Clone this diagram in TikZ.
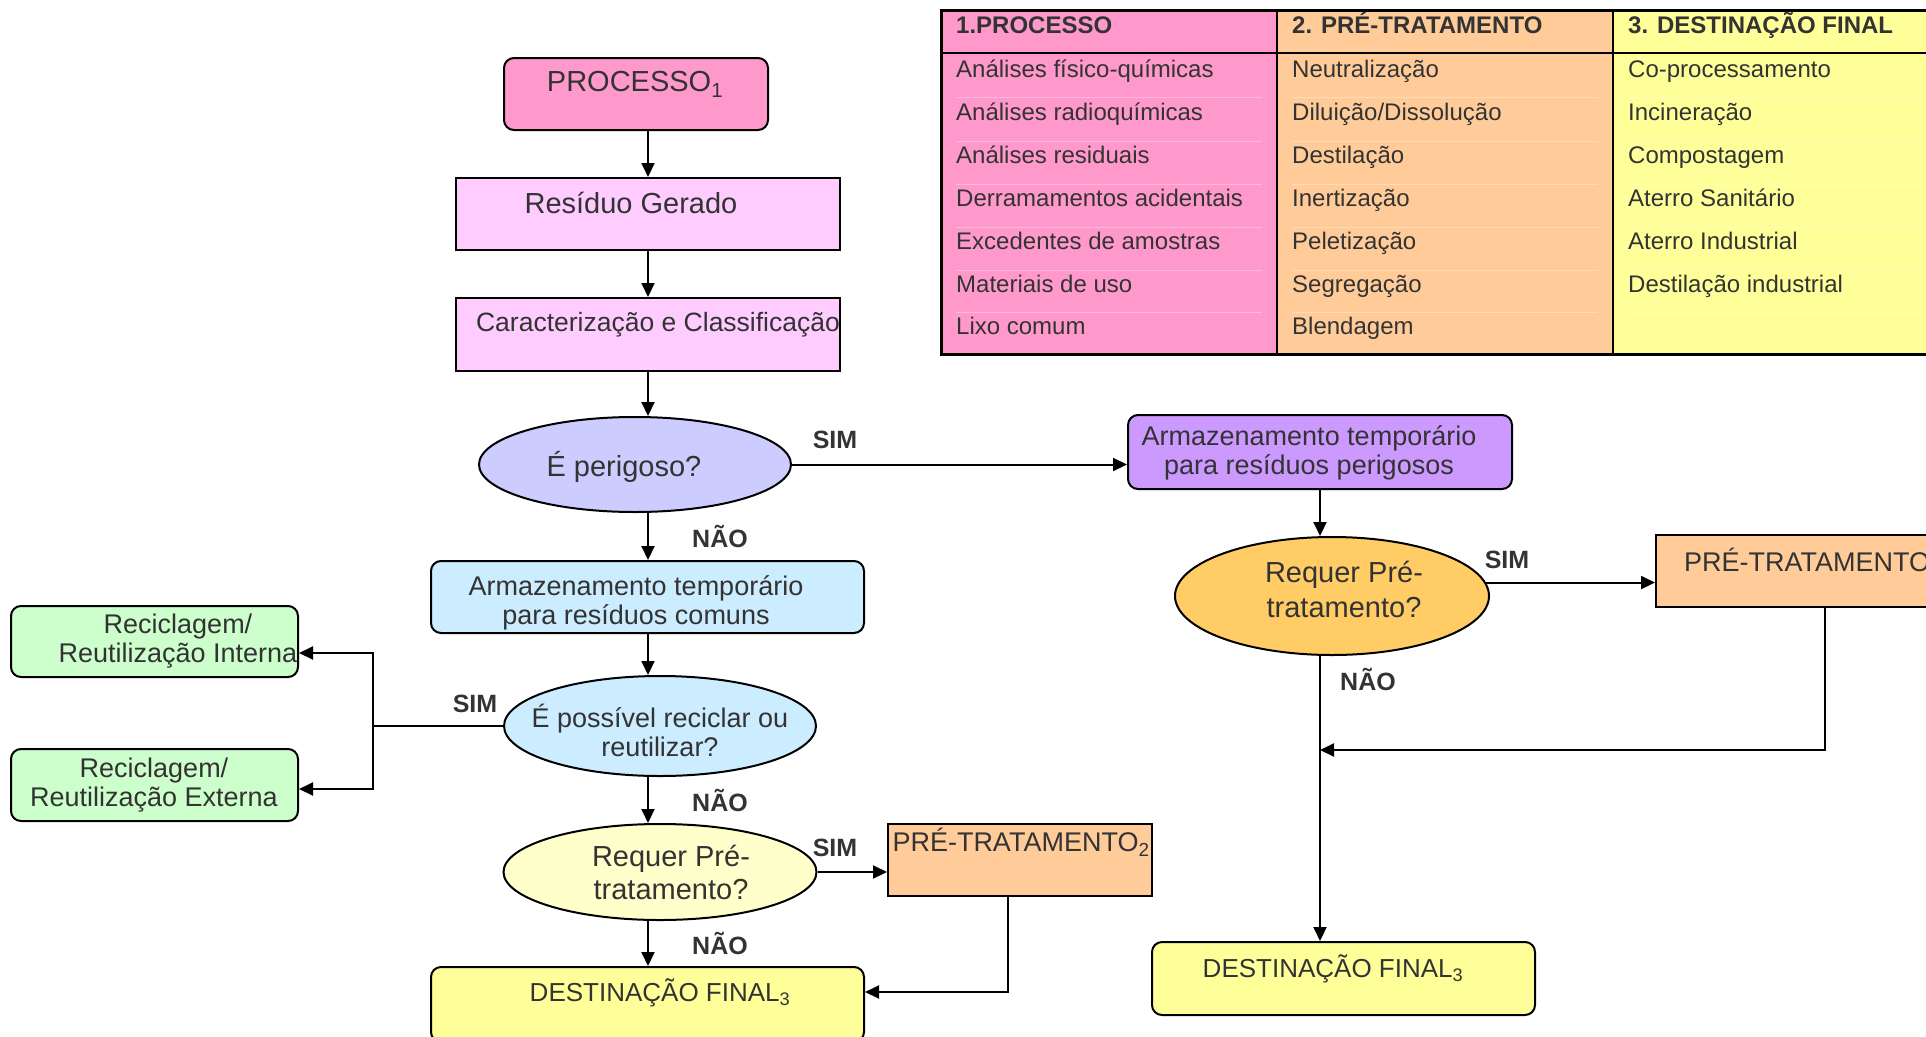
\documentclass[tikz,border=0pt]{standalone}
\usepackage{fontspec}
\setmainfont{Liberation Sans}
\usetikzlibrary{shapes.geometric}
\usetikzlibrary{arrows.meta}

\definecolor{txtgray}{HTML}{333333}
\definecolor{pinkA}{HTML}{FF99CC}
\definecolor{pinkB}{HTML}{FFCCFF}
\definecolor{lilac}{HTML}{CCCCFF}
\definecolor{purp}{HTML}{CC99FF}
\definecolor{orng}{HTML}{FFCC66}
\definecolor{peach}{HTML}{FFCC99}
\definecolor{yell}{HTML}{FFFF99}
\definecolor{lyell}{HTML}{FFFFCC}
\definecolor{lblue}{HTML}{CCECFF}
\definecolor{lgreen}{HTML}{CCFFCC}

\tikzset{
    boxr/.style = {rectangle, draw=black, line width=2pt, inner sep=0pt},
    boxrr/.style = {boxr, rounded corners=10pt},
    ell/.style = {ellipse, draw=black, line width=2pt, inner sep=0pt},
    txt/.style = {align=center, text=txtgray, inner sep=0pt, font=\fontsize{27}{29}\selectfont},
    txtb/.style = {txt, font=\fontsize{29}{35}\selectfont},
    txtd/.style = {txt, font=\fontsize{26}{29}\selectfont},
    lbl/.style = {text=txtgray, inner sep=0pt, font=\fontsize{25}{29}\selectfont\bfseries},
    tab/.style = {anchor=west, text=txtgray, inner sep=0pt, text height=18pt, text depth=5pt, font=\fontsize{24}{28}\selectfont},
    tabh/.style = {tab, font=\fontsize{24}{28}\selectfont\bfseries},
    arr/.style = {-{Triangle[length=14pt,width=13pt]}, line width=2pt, black},
    ln/.style = {-, line width=2pt, black},
}

\begin{document}
\begin{tikzpicture}[x=1pt,y=-1pt]
\useasboundingbox (0,0) rectangle (1926,1036);
\clip (0,0) rectangle (1926,1036);

% table
\fill[pinkA] (941,10) rectangle (1277,354);
\fill[peach] (1277,10) rectangle (1613,354);
\fill[yell] (1613,10) rectangle (1950,354);
\draw[white, opacity=0.3, line width=1pt] (956,97) -- (1262,97) (1292,97) -- (1598,97) (1628,97) -- (1940,97);
\draw[white, opacity=0.3, line width=1pt] (956,141) -- (1262,141) (1292,141) -- (1598,141) (1628,141) -- (1940,141);
\draw[white, opacity=0.3, line width=1pt] (956,184) -- (1262,184) (1292,184) -- (1598,184) (1628,184) -- (1940,184);
\draw[white, opacity=0.3, line width=1pt] (956,227) -- (1262,227) (1292,227) -- (1598,227) (1628,227) -- (1940,227);
\draw[white, opacity=0.3, line width=1pt] (956,270) -- (1262,270) (1292,270) -- (1598,270) (1628,270) -- (1940,270);
\draw[white, opacity=0.3, line width=1pt] (956,312) -- (1262,312) (1292,312) -- (1598,312) (1628,312) -- (1940,312);
\draw[line width=3pt] (1950,10) -- (941,10) -- (941,354) -- (1950,354);
\draw[line width=2.5pt] (941,53) -- (1950,53);
\draw[line width=2.5pt] (1277,10) -- (1277,354);
\draw[line width=2.5pt] (1613,10) -- (1613,354);

\node[tabh] at (956,26.5) (h1) {1.PROCESSO};
\node[tabh] at (1292,26.5) (h2) {2. PRÉ-TRATAMENTO};
\node[tabh] at (1628,26.5) (h3) {3. DESTINAÇÃO FINAL};

\node[tab] at (956,70.5) (a1) {Análises físico-químicas};
\node[tab] at (956,114) (a2) {Análises radioquímicas};
\node[tab] at (956,157) (a3) {Análises residuais};
\node[tab] at (956,200) (a4) {Derramamentos acidentais};
\node[tab] at (956,243) (a5) {Excedentes de amostras};
\node[tab] at (956,286) (a6) {Materiais de uso};
\node[tab] at (956,328) (a7) {Lixo comum};

\node[tab] at (1292,70.5) (b1) {Neutralização};
\node[tab] at (1292,114) (b2) {Diluição/Dissolução};
\node[tab] at (1292,157) (b3) {Destilação};
\node[tab] at (1292,200) (b4) {Inertização};
\node[tab] at (1292,243) (b5) {Peletização};
\node[tab] at (1292,286) (b6) {Segregação};
\node[tab] at (1292,328) (b7) {Blendagem};

\node[tab] at (1628,70.5) (c1) {Co-processamento};
\node[tab] at (1628,114) (c2) {Incineração};
\node[tab] at (1628,157) (c3) {Compostagem};
\node[tab] at (1628,200) (c4) {Aterro Sanitário};
\node[tab] at (1628,243) (c5) {Aterro Industrial};
\node[tab] at (1628,286) (c6) {Destilação industrial};

% flow, left column
\coordinate (ax) at (648,0);
\node[boxrr, fill=pinkA, minimum width=264pt, minimum height=72pt] at (636,94) (proc) {};
\node[txtb] at (635,84.5) (procT) {PROCESSO\textsubscript{1}};
\node[boxr, fill=pinkB, minimum width=384pt, minimum height=72pt] at (648,214) (res) {};
\node[txtb] at (631,203) (resT) {Resíduo Gerado};
\node[boxr, fill=pinkB, minimum width=384pt, minimum height=73pt] at (648,334.5) (car) {};
\node[txt, font=\fontsize{26.5}{29}\selectfont] at (658,324.5) (carT) {Caracterização e Classificação};
\node[ell, fill=lilac, minimum width=312pt, minimum height=95pt] at (635,464.5) (per) {};
\node[txtb] at (624,467) (perT) {É perigoso?};
\node[boxrr, fill=lblue, minimum width=433pt, minimum height=72pt] at (647.5,597) (com) {};
\node[txt] at (636,602.5) (comT) {Armazenamento temporário\\para resíduos comuns};
\node[ell, fill=lblue, minimum width=312pt, minimum height=100pt] at (660,726) (rec) {};
\node[txt] at (660,730) (recT) {É possível reciclar ou\\reutilizar?};
\node[boxrr, fill=lgreen, minimum width=287pt, minimum height=71pt] at (154.5,641.5) (gi) {};
\node[txt] at (178,641) (giT) {Reciclagem/\\Reutilização Interna};
\node[boxrr, fill=lgreen, minimum width=287pt, minimum height=72pt] at (154.5,785) (ge) {};
\node[txt] at (154,785) (geT) {Reciclagem/\\Reutilização Externa};
\node[ell, fill=lyell, minimum width=313pt, minimum height=96pt] at (660,872) (req4) {};
\node[txtb, font=\fontsize{29}{33}\selectfont] at (671,872) (req4T) {Requer Pré-\\tratamento?};
\node[boxr, fill=peach, minimum width=264pt, minimum height=72pt] at (1020,860) (pre2) {};
\node[txt] at (1021,842) (pre2T) {PRÉ-TRATAMENTO\textsubscript{2}};
\node[boxrr, fill=yell, minimum width=433pt, minimum height=75pt] at (647.5,1004.5) (destL) {};
\node[txtd] at (660,993) (destLT) {DESTINAÇÃO FINAL\textsubscript{3}};

% flow, right column
\node[boxrr, fill=purp, minimum width=384pt, minimum height=74pt] at (1320,452) (perig) {};
\node[txt] at (1309,452.5) (perigT) {Armazenamento temporário\\para resíduos perigosos};
\node[ell, fill=orng, minimum width=314pt, minimum height=118pt] at (1332,596) (req2) {};
\node[txtb] at (1344,589) (req2T) {Requer Pré-\\tratamento?};
\node[boxr, fill=peach, minimum width=338pt, minimum height=72pt] at (1825,571) (pre) {};
\node[txt, anchor=west] at (1684,560) (preT) {PRÉ-TRATAMENTO};
\node[boxrr, fill=yell, minimum width=383pt, minimum height=73pt] at (1343.5,978.5) (destR) {};
\node[txtd] at (1333,969) (destRT) {DESTINAÇÃO FINAL\textsubscript{3}};

% labels
\node[lbl] at (835,440) (sim1) {SIM};
\node[lbl] at (720,536) (nao1) {NÃO};
\node[lbl] at (1507,560) (simR) {SIM};
\node[lbl] at (1368,679) (naoR) {NÃO};
\node[lbl] at (475,704) (simL) {SIM};
\node[lbl] at (720,800) (nao2) {NÃO};
\node[lbl] at (835,848) (sim4) {SIM};
\node[lbl] at (720,943) (nao3) {NÃO};

% connectors
\coordinate (jR) at (1320,750);
\coordinate (jL) at (373,0);
\coordinate (jD) at (1008,992);
\draw[arr] (proc.south -| ax) -- (res.north -| ax);
\draw[arr] (res.south -| ax) -- (car.north -| ax);
\draw[arr] (car.south -| ax) -- (per.north -| ax);
\draw[arr] (per.east) -- (perig.west |- per.east);
\draw[arr] (per.south -| ax) -- (com.north -| ax);
\draw[arr] (com.south -| ax) -- (rec.north -| ax);
\draw[ln] (rec.west) -- (rec.west -| jL);
\draw[arr] (rec.west -| jL) |- ([yshift=-11.5pt]gi.east);
\draw[arr] (rec.west -| jL) |- ([yshift=-4pt]ge.east);
\draw[arr] (rec.south -| ax) -- (req4.north -| ax);
\draw[arr] (req4.east) -- (req4.east -| pre2.west);
\draw[arr] (req4.south -| ax) -- (destL.north -| ax);
\draw[arr] (pre2.south -| jD) -- (jD) -- (destL.east |- jD);
\draw[arr] (perig.south) -- (perig.south |- req2.north);
\draw[arr] (req2.5) -- (req2.5 -| pre.west);
\draw[arr] (req2.south -| perig.south) -- (destR.north -| perig.south);
\draw[arr] (pre.south) |- (jR);

\end{tikzpicture}
\end{document}
